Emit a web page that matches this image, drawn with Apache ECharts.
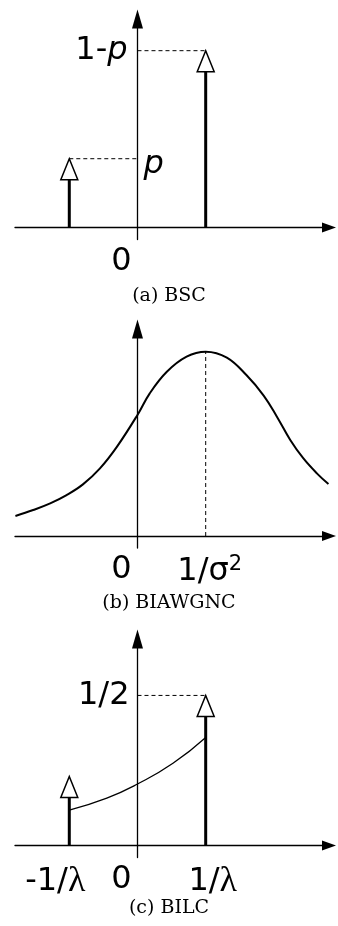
<!DOCTYPE html>
<html>
<head>
<meta charset="utf-8">
<script src="https://cdn.jsdelivr.net/npm/echarts@6/dist/echarts.min.js"></script>
<style>
  html, body { margin: 0; padding: 0; background: #fff; }
  #chart { width: 338px; height: 926px; }
</style>
</head>
<body>
<div id="chart"></div>
<script>
// (a) BSC: crossover probability p, two impulses at -1 and +1
const P = 0.28;
const bscX = [-1, 1];
const bscY = [P, 1 - P];

// (b) BIAWGNC: density of the channel LLR, peak at 1/sigma^2
const awgnX = [-1.79, -1.53, -1.28, -1.04, -0.80, -0.55, -0.30, 0.00, 0.18, 0.43,
               0.72, 1.00, 1.31, 1.60, 1.85, 2.04, 2.24, 2.43, 2.63, 2.80];
const awgnY = [0.109, 0.141, 0.177, 0.222, 0.280, 0.367, 0.485, 0.657, 0.774, 0.891,
               0.973, 1.000, 0.968, 0.872, 0.762, 0.650, 0.521, 0.422, 0.340, 0.282];
const awgnPeakX = 1;

// (c) BILC: impulses at -1/lambda and +1/lambda plus a continuous part between them
const lapX = [-1, 1];
const lapY = [0.23, 0.5];
const lapCurveX = [-1, -0.45, 0, 0.52, 1];
const lapCurveY = [0.118, 0.158, 0.205, 0.274, 0.36];

// tick labels
const xTicksA = [0];
const xTicksB = [0, awgnPeakX];
const xTicksC = [-1, 0, 1];

const X_MIN = -1.796, X_MAX = 2.808;
const SANS = 'DejaVu Sans';
const BLACK = '#000';

const rich = {
  n: { fontFamily: SANS, fontSize: 32, color: BLACK },
  i: { fontFamily: SANS, fontSize: 32, fontStyle: 'italic', color: BLACK },
  g: { fontFamily: 'Liberation Serif', fontSize: 36, color: BLACK },
  zero: { fontFamily: SANS, fontSize: 32, color: BLACK, padding: [0, 32, 0, 0] },
  negg: { fontFamily: 'Liberation Serif', fontSize: 36, color: BLACK, padding: [0, 28, 0, 0] },
  posl: { fontFamily: SANS, fontSize: 32, color: BLACK, padding: [0, 0, 0, 14] },
  sig: { fontFamily: SANS, fontSize: 32, color: BLACK, padding: [0, 0, 0, 8] },
  sup: { fontFamily: SANS, fontSize: 21, color: BLACK, verticalAlign: 'top', padding: [0, 0, 14, 0] }
};

function xAxisFor(gridIndex, ticks, fmt) {
  return {
    type: 'value', gridIndex, min: X_MIN, max: X_MAX,
    axisLine: { show: true, onZero: true, symbol: ['none', 'triangle'], symbolSize: [10, 14],
                lineStyle: { color: BLACK, width: 1.3 } },
    axisTick: { show: false },
    splitLine: { show: false },
    axisLabel: { show: true, customValues: ticks, margin: 6, formatter: fmt, rich, color: BLACK }
  };
}
function yAxisFor(gridIndex, min, max) {
  return {
    type: 'value', gridIndex, min, max,
    axisLine: { show: true, onZero: true, symbol: ['none', 'triangle'], symbolSize: [11, 19],
                lineStyle: { color: BLACK, width: 1.3 } },
    axisTick: { show: false },
    splitLine: { show: false },
    axisLabel: { show: false }
  };
}

// impulse: thick stem topped with an open arrowhead whose tip sits at the value
function impulseRender(params, api) {
  const x = api.value(0), v = api.value(1);
  const base = api.coord([x, 0]);
  const tip = api.coord([x, v]);
  const h = 21, w = 17;
  return {
    type: 'group',
    children: [
      { type: 'line', shape: { x1: base[0], y1: base[1], x2: tip[0], y2: tip[1] + h },
        style: { stroke: BLACK, lineWidth: 3 } },
      { type: 'polygon',
        shape: { points: [[tip[0], tip[1]], [tip[0] - w / 2, tip[1] + h], [tip[0] + w / 2, tip[1] + h]] },
        style: { fill: '#fff', stroke: BLACK, lineWidth: 1.5 } }
    ]
  };
}
function zip(xs, ys) { return xs.map((x, k) => [x, ys[k]]); }

// text attached to a point on the vertical axis
function levelLabel(v, text, position, distance, offset) {
  return { value: [0, v], label: { show: true, position, distance, offset: offset || [0, 0],
           formatter: text, rich, color: BLACK, opacity: 1 } };
}
function labelSeries(axisIndex, items) {
  return { type: 'scatter', xAxisIndex: axisIndex, yAxisIndex: axisIndex, symbolSize: 0,
           itemStyle: { opacity: 1, color: BLACK }, silent: true, z: 6, data: items };
}

const dashStyle = { color: BLACK, width: 1, type: [4, 3] };
const gridBase = { left: 15, width: 314, outerBoundsMode: 'none', containLabel: false };

const option = {
  animation: false,
  backgroundColor: '#fff',
  title: [
    { text: '(a) BSC', left: 'center', top: 282 },
    { text: '(b) BIAWGNC', left: 'center', top: 589 },
    { text: '(c) BILC', left: 'center', top: 894 }
  ].map(t => Object.assign(t, { textStyle: { fontFamily: 'DejaVu Serif', fontSize: 19, fontWeight: 'normal', color: BLACK } })),
  grid: [
    Object.assign({ top: 19, height: 220.5 }, gridBase),
    Object.assign({ top: 329, height: 219 }, gridBase),
    Object.assign({ top: 639, height: 218.5 }, gridBase)
  ],
  xAxis: [
    xAxisFor(0, xTicksA, () => '{zero|0}'),
    xAxisFor(1, xTicksB, v => v === 0 ? '{zero|0}' : '{sig|1/σ}{sup|2}'),
    xAxisFor(2, xTicksC, v => v === 0 ? '{zero|0}' : (v < 0 ? '{n|-1/}{negg|λ}' : '{posl|1/}{g|λ}'))
  ],
  yAxis: [
    yAxisFor(0, -0.049, 0.849),
    yAxisFor(1, -0.065, 1.123),
    yAxisFor(2, -0.04, 0.688)
  ],
  series: [
    // (a)
    { type: 'line', xAxisIndex: 0, yAxisIndex: 0, symbol: 'none', lineStyle: dashStyle,
      data: [[bscX[0], bscY[0]], [0, bscY[0]]] },
    { type: 'line', xAxisIndex: 0, yAxisIndex: 0, symbol: 'none', lineStyle: dashStyle,
      data: [[0, bscY[1]], [bscX[1], bscY[1]]] },
    { type: 'custom', xAxisIndex: 0, yAxisIndex: 0, renderItem: impulseRender, data: zip(bscX, bscY), z: 5 },
    labelSeries(0, [
      levelLabel(bscY[1], '{n|1-}{i|p}', 'left', 10),
      levelLabel(bscY[0], '{i|p}', 'right', 6, [0, 6])
    ]),
    // (b)
    { type: 'line', xAxisIndex: 1, yAxisIndex: 1, symbol: 'none', smooth: 0.4,
      lineStyle: { color: BLACK, width: 2 }, data: zip(awgnX, awgnY) },
    { type: 'line', xAxisIndex: 1, yAxisIndex: 1, symbol: 'none', lineStyle: dashStyle,
      data: [[awgnPeakX, 0], [awgnPeakX, 1]] },
    // (c)
    { type: 'line', xAxisIndex: 2, yAxisIndex: 2, symbol: 'none', smooth: 0.5,
      lineStyle: { color: BLACK, width: 1.3 }, data: zip(lapCurveX, lapCurveY) },
    { type: 'line', xAxisIndex: 2, yAxisIndex: 2, symbol: 'none', lineStyle: dashStyle,
      data: [[0, lapY[1]], [lapX[1], lapY[1]]] },
    { type: 'custom', xAxisIndex: 2, yAxisIndex: 2, renderItem: impulseRender, data: zip(lapX, lapY), z: 5 },
    labelSeries(2, [ levelLabel(lapY[1], '{n|1/2}', 'left', 8) ])
  ]
};

const chart = echarts.init(document.getElementById('chart'), null, { renderer: 'canvas' });
chart.setOption(option);
</script>
</body>
</html>
